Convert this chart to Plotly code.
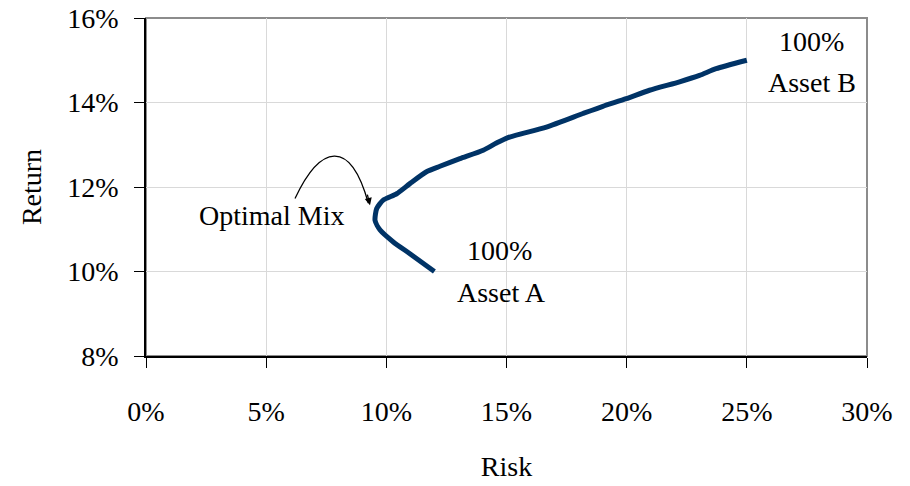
import plotly.graph_objects as go

# Two-asset frontier: risk (std. dev., %) vs expected return (%)
risk = [12.0, 10.98, 10.29, 9.74, 9.53, 9.60, 9.87, 10.43, 10.98, 11.67, 12.23,
        13.06, 14.03, 14.58, 15.06, 16.66, 18.18, 19.01, 19.98,
        20.95, 22.2, 23.03, 23.72, 25.0]
ret = [10.0, 10.42, 10.70, 10.98, 11.21, 11.49, 11.69, 11.84, 12.08, 12.36, 12.49,
       12.67, 12.87, 13.04, 13.17, 13.42, 13.74, 13.91, 14.09,
       14.29, 14.49, 14.64, 14.80, 15.0]

x_ticks = [0, 5, 10, 15, 20, 25, 30]
y_ticks = [8, 10, 12, 14, 16]

FONT = "Liberation Serif"
NAVY = "#003366"

fig = go.Figure()
fig.add_trace(go.Scatter(
    x=risk, y=ret, mode="lines",
    line=dict(color=NAVY, width=5, shape="spline", smoothing=0.6),
    hoverinfo="skip", showlegend=False,
))

# Grey frame around the plot area
fig.add_shape(type="rect", xref="paper", yref="paper", x0=0, y0=0, x1=1, y1=1,
              line=dict(color="#8c8c8c", width=2), layer="below")

# Curved pointer from the label to the minimum-risk point
fig.add_shape(type="path", xref="x", yref="y",
              path="M 6.20,11.73 C 7.24,12.99 8.49,13.18 9.25,11.62",
              line=dict(color="black", width=1.3))
fig.add_annotation(x=9.32, y=11.57, ax=-3, ay=-12, text="", showarrow=True,
                   arrowhead=2, arrowsize=1.1, arrowwidth=1.3, arrowcolor="black")

txt = dict(family=FONT, size=28, color="black")
fig.add_annotation(x=5.24, y=11.32, text="Optimal Mix", showarrow=False, font=txt)
fig.add_annotation(x=14.72, y=10.5, text="100%", showarrow=False, font=txt)
fig.add_annotation(x=14.8, y=9.5, text="Asset A", showarrow=False, font=txt)
fig.add_annotation(x=27.7, y=15.45, text="100%", showarrow=False, font=txt)
fig.add_annotation(x=27.7, y=14.47, text="Asset B", showarrow=False, font=txt)

fig.update_xaxes(
    range=[0, 30], tickvals=x_ticks, ticktext=[f"{v}%" for v in x_ticks],
    showgrid=True, gridcolor="#d9d9d9", gridwidth=1,
    showline=True, linecolor="black", linewidth=1.5,
    ticks="outside", ticklen=10, tickcolor="black", tickwidth=1.2,
    ticklabelstandoff=20, zeroline=False, automargin=False,
    tickfont=dict(family=FONT, size=28, color="black"),
    title=dict(text="Risk", font=dict(family=FONT, size=28, color="black"), standoff=30),
)
fig.update_yaxes(
    range=[8, 16], tickvals=y_ticks, ticktext=[f"{v}%" for v in y_ticks],
    showgrid=True, gridcolor="#d9d9d9", gridwidth=1,
    showline=True, linecolor="black", linewidth=1.5,
    ticks="outside", ticklen=10, tickcolor="black", tickwidth=1.2,
    ticklabelstandoff=10, zeroline=False, automargin=False,
    tickfont=dict(family=FONT, size=28, color="black"),
    title=dict(text="Return", font=dict(family=FONT, size=28, color="black"), standoff=18),
)

fig.update_layout(
    width=910, height=486,
    margin=dict(l=146, r=43, t=18, b=130, autoexpand=False),
    paper_bgcolor="white", plot_bgcolor="white",
)

fig.write_html("out.html")
